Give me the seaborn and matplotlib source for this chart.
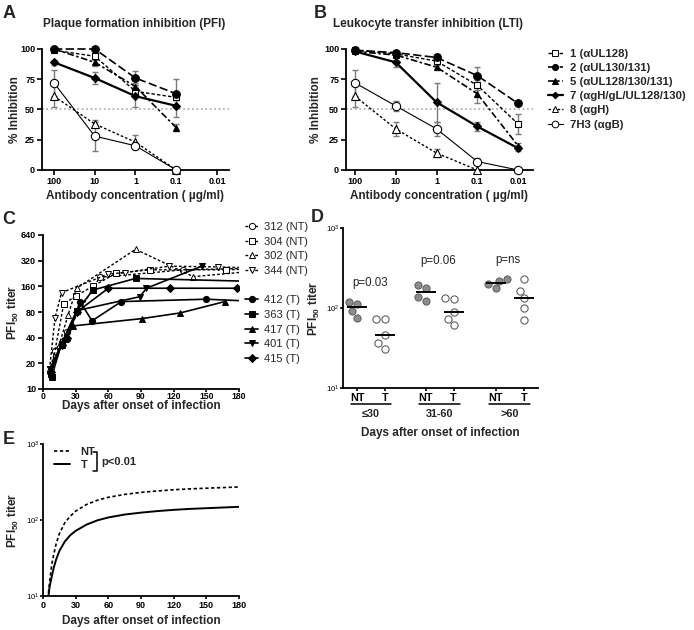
import numpy as np
import pandas as pd
import matplotlib
matplotlib.use("Agg")
import matplotlib.pyplot as plt
from matplotlib.lines import Line2D
import seaborn as sns

# ---------------- data ----------------
# A / B : % inhibition vs antibody concentration (ug/ml)
conc = [100, 10, 1, 0.1, 0.01]
conc_labels = ["100", "10", "1", "0.1", "0.01"]
ab_labels = ["1 (αUL128)", "2 (αUL130/131)", "5 (αUL128/130/131)",
             "7 (αgH/gL/UL128/130)", "8 (αgH)", "7H3 (αgB)"]

pfi_ab1 = [99, 94, 65, 60]
pfi_ab1_sd = [0, 3, 4, 2]
pfi_ab2 = [100, 100, 76, 63]
pfi_ab2_sd = [0, 0, 6, 12]
pfi_ab5 = [100, 89, 69, 35]
pfi_ab5_sd = [0, 3, 3, 3]
pfi_ab7 = [89, 76, 61, 53]
pfi_ab7_sd = [2, 5, 9, 9]
pfi_ab8 = [61, 38, 23, 0]
pfi_ab8_sd = [9, 3, 6, 0]
pfi_7h3 = [72, 28, 20, 0]
pfi_7h3_sd = [11, 12, 2, 0]

lti_ab1 = [99, 96, 90, 70, 38]
lti_ab1_sd = [0, 1, 2, 4, 8]
lti_ab2 = [99, 97, 93, 78, 55]
lti_ab2_sd = [1, 1, 3, 7, 2]
lti_ab5 = [98, 95, 85, 63, 20]
lti_ab5_sd = [0, 1, 2, 8, 2]
lti_ab7 = [98, 89, 56, 36, 18]
lti_ab7_sd = [1, 4, 16, 4, 2]
lti_ab8 = [61, 34, 14, 0]
lti_ab8_sd = [9, 6, 3, 0]
lti_7h3 = [72, 53, 34, 7, 0]
lti_7h3_sd = [11, 4, 6, 3, 0]

# C : PFI50 titer kinetics per patient (days after onset, titer)
c_names = ["312 (NT)", "304 (NT)", "302 (NT)", "344 (NT)",
           "412 (T)", "363 (T)", "417 (T)", "401 (T)", "415 (T)"]
c312_days = [6, 11, 22, 52, 129, 200]
c312_titer = [16, 28, 47, 204, 250, 262]
c304_days = [7, 19, 30, 46, 67, 98, 168, 200]
c304_titer = [15, 99, 123, 161, 227, 250, 250, 258]
c302_days = [7, 23, 31, 85, 138, 200]
c302_titer = [15, 74, 152, 435, 208, 245]
c344_days = [6, 11, 17, 60, 75, 116, 161, 200]
c344_titer = [17, 68, 135, 223, 232, 276, 270, 262]
c412_days = [7, 17, 22, 34, 45, 72, 150, 200]
c412_titer = [16, 34, 39, 106, 63, 106, 113, 106]
c363_days = [8, 17, 31, 46, 85, 200]
c363_titer = [14, 34, 83, 145, 198, 182]
c417_days = [7, 17, 28, 91, 126, 167]
c417_titer = [16, 33, 55, 67, 78, 106]
c401_days = [6, 17, 31, 89, 95, 146]
c401_titer = [17, 33, 83, 121, 152, 276]
c415_days = [7, 17, 22, 31, 60, 117, 178]
c415_titer = [16, 33, 40, 80, 152, 152, 152]

# D : PFI50 titers by time window
d_groups = ["≤30", "31-60", ">60"]
d_nt_30 = [113, 118, 92, 76]
d_t_30 = [73, 73, 46, 31, 36]
d_nt_60 = [194, 176, 123, 138]
d_t_60 = [130, 132, 88, 73, 61]
d_nt_gt = [230, 218, 198, 176]
d_t_gt = [230, 164, 132, 101, 71]
d_pvals = ["p=0.03", "p=0.06", "p=ns"]
d_pval_y = [206, 390, 398]

# E : fitted curves
e_days = [5, 6, 8, 10, 12, 15, 20, 25, 30, 40, 50, 60, 75, 90, 105, 120, 135, 150, 165, 180]
e_nt = [11, 15, 26, 36, 48, 66, 92, 112, 131, 160, 182, 199, 217, 231, 241, 250, 257, 262, 267, 272]
e_t = [10, 13, 18, 24, 30, 39, 52, 63, 72, 87, 99, 108, 118, 125, 131, 136, 140, 143, 146, 149]

# ---------------- style ----------------
sns.set_style("ticks")
plt.rcParams["font.family"] = ["Liberation Sans", "DejaVu Sans"]
plt.rcParams["font.weight"] = "bold"
plt.rcParams["axes.labelweight"] = "bold"
plt.rcParams["axes.linewidth"] = 1.3
plt.rcParams["axes.edgecolor"] = "black"

W, H = 694, 630
fig = plt.figure(figsize=(W / 100, H / 100), dpi=100)


def add_ax(l, t, r, b):
    return fig.add_axes([l / W, 1 - b / H, (r - l) / W, (b - t) / H])


def style_ax(ax, size=6.5):
    sns.despine(ax=ax)
    ax.tick_params(which="major", direction="out", length=3.5, width=1.2,
                   labelsize=size, pad=1.5, colors="black")
    ax.tick_params(which="minor", length=0)


def place_labels(ax, l, t, r, b, xlab_y, ylab_x):
    # label centres given in figure pixels
    ax.xaxis.set_label_coords(0.5, -(xlab_y - b) / (b - t))
    ax.xaxis.label.set_va("center")
    ax.yaxis.set_label_coords(-(l - ylab_x) / (r - l), 0.5)
    ax.yaxis.label.set_va("center")


ab_styles = [
    dict(marker="s", ms=5, mfc="white", ls=(0, (2.5, 1.5)), lw=1.0),
    dict(marker="o", ms=5.5, mfc="black", ls=(0, (5, 2)), lw=1.2),
    dict(marker="^", ms=5, mfc="black", ls=(0, (4, 1.5, 1.5, 1.5)), lw=1.2),
    dict(marker="D", ms=4.2, mfc="black", ls="-", lw=1.6),
    dict(marker="^", ms=5.5, mfc="white", ls=(0, (1.8, 1.5)), lw=1.0),
    dict(marker="o", ms=6, mfc="white", ls="-", lw=0.8),
]


def draw_inhibition(ax, means, sds, xlim):
    ax.axhline(50, color="#a8a8a8", ls=":", lw=1.2, zorder=0)
    for vals, sd, st in zip(means, sds, ab_styles):
        x = np.array(conc[:len(vals)])
        v = np.array(vals, dtype=float)
        e = np.array(sd, dtype=float)
        m = e > 0
        ax.errorbar(x[m], v[m], yerr=e[m], fmt="none", ecolor="#7a7a7a",
                    elinewidth=1.0, capsize=2.5, capthick=1.0, zorder=1, clip_on=False)
        sns.lineplot(x=x, y=v, ax=ax, color="black", marker=st["marker"],
                     markersize=st["ms"], markerfacecolor=st["mfc"],
                     markeredgecolor="black", markeredgewidth=0.8,
                     linestyle=st["ls"], linewidth=st["lw"], sort=False,
                     errorbar=None, clip_on=False, zorder=3)
    ax.set_xscale("log")
    ax.set_xlim(*xlim)
    ax.set_ylim(0, 100)
    ax.set_xticks(conc, conc_labels)
    ax.set_yticks([0, 25, 50, 75, 100])
    ax.minorticks_off()
    style_ax(ax)
    ax.set_xlabel("Antibody concentration ( µg/ml)", fontsize=8.5)
    ax.set_ylabel("% Inhibition", fontsize=8.5)


# ---------------- panel A ----------------
axA = add_ax(42, 49, 229, 170)
draw_inhibition(axA, [pfi_ab1, pfi_ab2, pfi_ab5, pfi_ab7, pfi_ab8, pfi_7h3],
                [pfi_ab1_sd, pfi_ab2_sd, pfi_ab5_sd, pfi_ab7_sd, pfi_ab8_sd, pfi_7h3_sd],
                (197, 0.00507))
place_labels(axA, 42, 49, 229, 170, 196, 15)
fig.text(134 / W, 1 - 24 / H, "Plaque formation inhibition (PFI)", ha="center", va="center", fontsize=8.5)

# ---------------- panel B ----------------
axB = add_ax(346, 49, 533, 170)
draw_inhibition(axB, [lti_ab1, lti_ab2, lti_ab5, lti_ab7, lti_ab8, lti_7h3],
                [lti_ab1_sd, lti_ab2_sd, lti_ab5_sd, lti_ab7_sd, lti_ab8_sd, lti_7h3_sd],
                (166, 0.0043))
place_labels(axB, 346, 49, 533, 170, 196, 316)
fig.text(428 / W, 1 - 24 / H, "Leukocyte transfer inhibition (LTI)", ha="center", va="center", fontsize=8.5)

ab_handles = [Line2D([], [], color="black", marker=st["marker"], markersize=st["ms"] * 0.8,
                     markerfacecolor=st["mfc"], markeredgecolor="black", markeredgewidth=0.7,
                     linestyle=st["ls"], linewidth=st["lw"]) for st in ab_styles]
fig.legend(ab_handles, ab_labels, loc="upper left", bbox_to_anchor=(548 / W, 1 - 49 / H),
           frameon=False, fontsize=8.2, handlelength=1.3, handletextpad=0.6,
           labelspacing=0.36, borderpad=0, borderaxespad=0)

# ---------------- panel C ----------------
axC = add_ax(43, 235, 239, 389)
c_days = [c312_days, c304_days, c302_days, c344_days, c412_days, c363_days, c417_days, c401_days, c415_days]
c_titer = [c312_titer, c304_titer, c302_titer, c344_titer, c412_titer, c363_titer, c417_titer, c401_titer, c415_titer]
c_styles = [
    dict(marker="o", mfc="white", ls=(0, (2, 1.5)), lw=1.0),
    dict(marker="s", mfc="white", ls=(0, (2, 1.5)), lw=1.0),
    dict(marker="^", mfc="white", ls=(0, (2, 1.5)), lw=1.0),
    dict(marker="v", mfc="white", ls=(0, (2, 1.5)), lw=1.0),
    dict(marker="o", mfc="black", ls="-", lw=1.2),
    dict(marker="s", mfc="black", ls="-", lw=1.2),
    dict(marker="^", mfc="black", ls="-", lw=1.2),
    dict(marker="v", mfc="black", ls="-", lw=1.2),
    dict(marker="D", mfc="black", ls="-", lw=1.2),
]
axC.set_yscale("log", base=2)
for d, t, st in zip(c_days, c_titer, c_styles):
    sns.lineplot(x=d, y=t, ax=axC, color="black", marker=st["marker"],
                 markersize=4.5 if st["marker"] != "D" else 3.8,
                 markerfacecolor=st["mfc"], markeredgecolor="black", markeredgewidth=0.7,
                 linestyle=st["ls"], linewidth=st["lw"], errorbar=None)
axC.set_xlim(0, 180)
axC.set_ylim(10, 640)
axC.set_xticks([0, 30, 60, 90, 120, 150, 180])
axC.set_yticks([10, 20, 40, 80, 160, 320, 640], ["10", "20", "40", "80", "160", "320", "640"])
axC.minorticks_off()
style_ax(axC)
axC.tick_params(axis="x", length=1.8, pad=0.3, labelsize=6.2)
axC.set_xlabel("Days after onset of infection", fontsize=8.5)
axC.set_ylabel(r"PFI$\mathregular{_{50}}$ titer", fontsize=8.5)
place_labels(axC, 43, 235, 239, 389, 406, 13)

c_handles = [Line2D([], [], color="black", marker=st["marker"], markersize=4.5 if st["marker"] != "D" else 3.8,
                    markerfacecolor=st["mfc"], markeredgecolor="black", markeredgewidth=0.7,
                    linestyle=st["ls"], linewidth=st["lw"]) for st in c_styles]
blank = Line2D([], [], color="none")
axC.legend(c_handles[:4] + [blank] + c_handles[4:], c_names[:4] + [""] + c_names[4:],
           loc="upper left", bbox_to_anchor=(245 / W, 1 - 222 / H), bbox_transform=fig.transFigure,
           frameon=False, prop=dict(size=8, weight="normal"), handlelength=1.2,
           handletextpad=0.5, labelspacing=0.42, borderpad=0, borderaxespad=0)

# ---------------- panel D ----------------
axD = add_ax(343, 228, 538, 388)
d_pos = [0, 1, 2.45, 3.45, 4.95, 5.95]
d_sets = [d_nt_30, d_t_30, d_nt_60, d_t_60, d_nt_gt, d_t_gt]
rows = []
for i, (p, vals) in enumerate(zip(d_pos, d_sets)):
    kind = "NT" if i % 2 == 0 else "T"
    for v in vals:
        rows.append(dict(pos=p, titer=v, kind=kind))
df_d = pd.DataFrame(rows)
axD.set_yscale("log")
axD.set_ylim(10, 1000)
axD.set_xlim(-0.5, 6.46)
sns.swarmplot(data=df_d[df_d.kind == "NT"], x="pos", y="titer", native_scale=True,
              color="#8c8c8c", edgecolor="#505050", linewidth=0.6, size=5.2, ax=axD, zorder=3)
sns.swarmplot(data=df_d[df_d.kind == "T"], x="pos", y="titer", native_scale=True,
              color="white", edgecolor="#606060", linewidth=0.8, size=5.2, ax=axD, zorder=3)
for p, vals in zip(d_pos, d_sets):
    axD.hlines(np.median(vals), p - 0.36, p + 0.36, color="black", lw=1.4, zorder=4)
axD.set_xlim(-0.5, 6.46)
axD.set_ylim(10, 1000)
axD.set_xticks(d_pos, ["NT", "T"] * 3)
axD.set_yticks([10, 100, 1000], [r"$\mathregular{10^{1}}$", r"$\mathregular{10^{2}}$", r"$\mathregular{10^{3}}$"])
axD.minorticks_off()
style_ax(axD)
axD.tick_params(axis="x", labelsize=7.8, length=2.5, pad=0.8)
axD.tick_params(axis="y", labelsize=5.6, length=2, pad=0.8)
for lbl in axD.get_yticklabels():
    lbl.set_fontweight("normal")
trD = axD.get_xaxis_transform()
for i, g in enumerate(d_groups):
    c = (d_pos[2 * i] + d_pos[2 * i + 1]) / 2
    axD.plot([c - 0.73, c + 0.73], [-0.102, -0.102], color="black", lw=1.1, transform=trD, clip_on=False)
    axD.text(c, -0.16, g, ha="center", va="center", fontsize=7.8, transform=trD)
    axD.text(c - 0.05, d_pval_y[i], d_pvals[i], ha="center", va="center", fontsize=8.3, fontweight="normal")
axD.set_xlabel("Days after onset of infection", fontsize=8.5)
axD.set_ylabel(r"PFI$\mathregular{_{50}}$ titer", fontsize=8.5)
place_labels(axD, 343, 228, 538, 388, 433, 314)

# ---------------- panel E ----------------
axE = add_ax(43, 444, 239, 596)
axE.set_yscale("log")
nt_line = sns.lineplot(x=e_days, y=e_nt, ax=axE, color="black", linestyle=(0, (2, 1.5)), linewidth=1.2,
                       errorbar=None).lines[-1]
t_line = sns.lineplot(x=e_days, y=e_t, ax=axE, color="black", linestyle="-", linewidth=1.4,
                      errorbar=None).lines[-1]
axE.set_xlim(0, 180)
axE.set_ylim(10, 1000)
axE.set_xticks([0, 30, 60, 90, 120, 150, 180])
axE.set_yticks([10, 100, 1000], [r"$\mathregular{10^{1}}$", r"$\mathregular{10^{2}}$", r"$\mathregular{10^{3}}$"])
axE.minorticks_off()
style_ax(axE)
axE.tick_params(axis="x", length=2.5, pad=0.8)
axE.tick_params(axis="y", labelsize=5.6, length=2, pad=0.8)
for lbl in axE.get_yticklabels():
    lbl.set_fontweight("normal")
axE.set_xlabel("Days after onset of infection", fontsize=8.5)
axE.set_ylabel(r"PFI$\mathregular{_{50}}$ titer", fontsize=8.5)
place_labels(axE, 43, 444, 239, 596, 621, 13)
axE.legend([nt_line, t_line], ["NT", "T"], loc="upper left", bbox_to_anchor=(54 / W, 1 - 447 / H),
           bbox_transform=fig.transFigure, frameon=False, fontsize=8, handlelength=1.4,
           handletextpad=1.0, labelspacing=0.3, borderpad=0, borderaxespad=0)
fig.add_artist(Line2D([93 / W, 97 / W, 97 / W, 93 / W], [1 - 452 / H, 1 - 452 / H, 1 - 471 / H, 1 - 471 / H],
                      color="black", lw=1.1))
fig.text(101 / W, 1 - 462 / H, "p<0.01", ha="left", va="center", fontsize=8)

# ---------------- panel letters ----------------
for letter, (x, y) in zip("ABCDE", [(9, 14), (320, 14), (9, 219), (317, 218), (9, 440)]):
    fig.text(x / W, 1 - y / H, letter, ha="center", va="center", fontsize=13, fontweight="bold")

fig.savefig("out.png", dpi=100)
